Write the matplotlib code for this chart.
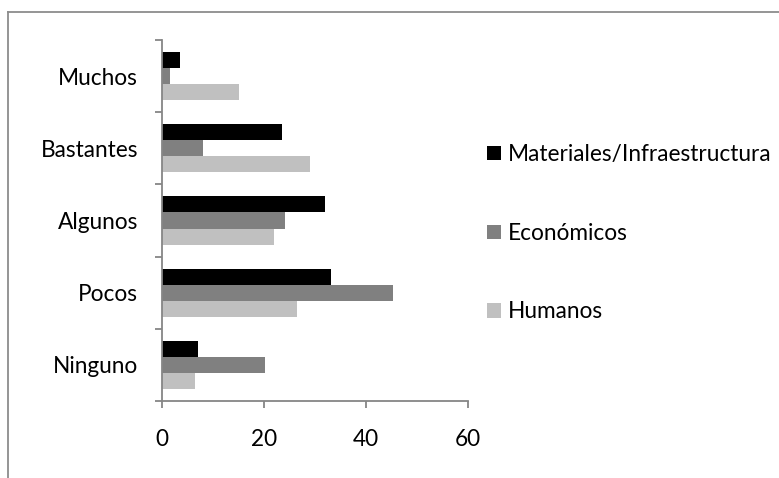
import matplotlib

matplotlib.use("Agg")
import matplotlib.pyplot as plt
import numpy as np
from matplotlib.lines import Line2D
from matplotlib.patches import Patch

# Data
categories = ["Ninguno", "Pocos", "Algunos", "Bastantes", "Muchos"]
materiales = [7.2, 33.2, 32.1, 23.6, 3.6]
economicos = [20.3, 45.4, 24.2, 8.0, 1.6]
humanos = [6.5, 26.5, 22.1, 29.1, 15.2]
series_names = ["Materiales/Infraestructura", "Económicos", "Humanos"]
x_ticks = [0, 20, 40, 60]

colors = ["#000000", "#808080", "#c0c0c0"]
axis_color = "#868686"

plt.rcParams["font.family"] = ["Lato", "DejaVu Sans"]
FS = 16.3

fig = plt.figure(figsize=(7.79, 4.78), dpi=100)
ax = fig.add_axes([0.2076, 0.1611, 0.6004 - 0.2076, 0.9163 - 0.1611])

y = np.arange(len(categories))
h = 0.222
for vals, off, col in zip([materiales, economicos, humanos], [h, 0, -h], colors):
    ax.barh(y + off, vals, height=h, color=col, edgecolor="none")

ax.set_xlim(0, 60)
ax.set_ylim(-0.5, len(categories) - 0.5)
ax.set_xticks(x_ticks)
ax.set_xticklabels([str(t) for t in x_ticks], fontsize=FS)

# category labels centred in bands, ticks on band boundaries
ax.set_yticks(np.arange(-0.5, len(categories), 1.0))
ax.set_yticklabels([])
ax.set_yticks(y, minor=True)
ax.set_yticklabels(categories, minor=True, fontsize=FS)
ax.tick_params(axis="y", which="minor", length=0, pad=17)
ax.tick_params(axis="y", which="major", length=5, width=1.3, color=axis_color)
ax.tick_params(axis="x", length=5, width=1.3, color=axis_color, pad=15)

for side in ["top", "right"]:
    ax.spines[side].set_visible(False)
for side in ["left", "bottom"]:
    ax.spines[side].set_color(axis_color)
    ax.spines[side].set_linewidth(1.3)

handles = [Patch(facecolor=c, edgecolor="none") for c in colors]
fig.legend(
    handles,
    series_names,
    loc="center left",
    bbox_to_anchor=(0.614, 0.512),
    frameon=False,
    fontsize=FS,
    handlelength=0.6,
    handleheight=0.6,
    handletextpad=0.3,
    labelspacing=2.55,
    borderaxespad=0,
)

# outer chart border (top and left edges visible)
fig.add_artist(Line2D([8 / 779, 1], [1 - 12 / 478, 1 - 12 / 478],
                      transform=fig.transFigure, color="#8c8c8c", lw=1.3))
fig.add_artist(Line2D([8 / 779, 8 / 779], [0, 1 - 12 / 478],
                      transform=fig.transFigure, color="#8c8c8c", lw=1.3))

fig.savefig("out.png", dpi=100)
